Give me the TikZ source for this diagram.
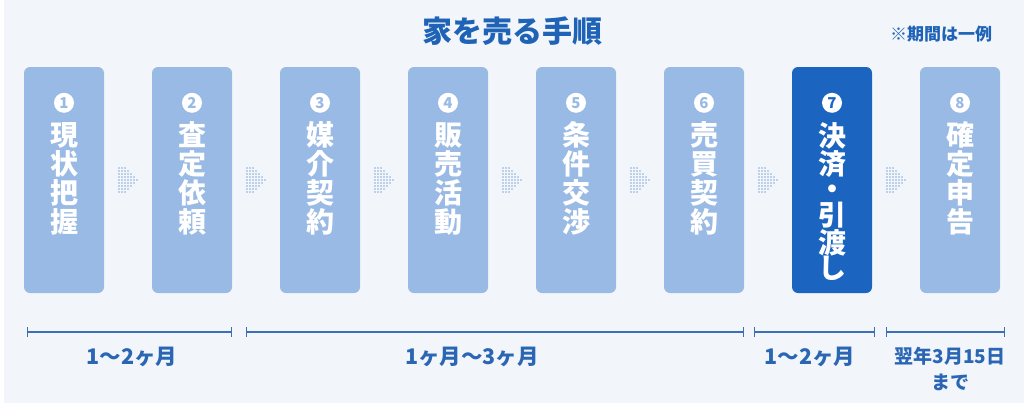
\documentclass[tikz,border=0pt]{standalone}
\usepackage{fontspec}
\newfontfamily\jp{Noto Sans CJK JP}
\usetikzlibrary{arrows.meta,calc}
\definecolor{bg}{HTML}{F2F6FB}
\definecolor{lightbox}{HTML}{99BAE4}
\definecolor{darkbox}{HTML}{1B65C1}
\definecolor{titleblue}{HTML}{1F63B7}
\definecolor{dotblue}{HTML}{8AACDC}
\definecolor{lineblue}{HTML}{3B6FB6}
\definecolor{labelblue}{HTML}{2A66B4}
\tikzset{
  stepbox/.style={draw=none, rounded corners=6pt, minimum width=80pt, minimum height=226pt, inner sep=0pt},
  numcirc/.style={circle, fill=white, minimum size=20pt, inner sep=0pt, font=\jp\bfseries\fontsize{15}{15}\selectfont},
  vtext/.style={text=white, anchor=base, text width=40pt, align=center, inner sep=0pt, font=\jp\bfseries\fontsize{28}{29}\selectfont},
  tline/.style={lineblue, line width=1.4pt, {Bar[width=10pt]}-{Bar[width=10pt]}},
  lbl/.style={text=labelblue, inner sep=0pt, font=\jp\bfseries\fontsize{21.5}{21.5}\selectfont},
  dotarrow/.pic={
    \foreach \c in {-9,-6,-3} {\foreach \r in {-4,...,4} \fill[dotblue] (\c,3*\r) circle (0.8pt);}
    \foreach \r in {-3,...,3} \fill[dotblue] (0,3*\r) circle (0.8pt);
    \foreach \r in {-2,...,2} \fill[dotblue] (3,3*\r) circle (0.8pt);
    \foreach \r in {-1,...,1} \fill[dotblue] (6,3*\r) circle (0.8pt);
    \fill[dotblue] (9,0) circle (0.8pt);
  }
}
\begin{document}
\begin{tikzpicture}[x=1pt,y=1pt]
\useasboundingbox (0,0) rectangle (1024,-407);
\fill[white] (0,0) rectangle (1024,-407);
\fill[bg] (4,0) rectangle (1024,-403);

% title and note
\node[text=titleblue, inner sep=0pt, font=\jp\bfseries\fontsize{30}{30}\selectfont] (title) at (512,-31) {家を売る手順};
\node[text=titleblue, inner sep=0pt, font=\jp\bfseries\fontsize{17}{17}\selectfont] (note) at (941,-34) {※期間は一例};

% boxes
\foreach \i in {1,...,8} {
  \ifnum\i=7
    \node[stepbox, fill=darkbox] (b\i) at ({64+128*(\i-1)},-180) {};
    \node[numcirc, text=darkbox] (n\i) at ($(b\i.north)+(0,-36)$) {\i};
  \else
    \node[stepbox, fill=lightbox] (b\i) at ({64+128*(\i-1)},-180) {};
    \node[numcirc, text=lightbox] (n\i) at ($(b\i.north)+(0,-36)$) {\i};
  \fi
}
\node[vtext] (t1) at ($(b1.north)+(0,-79)$) {現\\状\\把\\握};
\node[vtext] (t2) at ($(b2.north)+(0,-79)$) {査\\定\\依\\頼};
\node[vtext] (t3) at ($(b3.north)+(0,-79)$) {媒\\介\\契\\約};
\node[vtext] (t4) at ($(b4.north)+(0,-79)$) {販\\売\\活\\動};
\node[vtext] (t5) at ($(b5.north)+(0,-79)$) {条\\件\\交\\渉};
\node[vtext] (t6) at ($(b6.north)+(0,-79)$) {売\\買\\契\\約};
\node[vtext, font=\jp\bfseries\fontsize{28}{25.5}\selectfont] (t7) at ($(b7.north)+(0,-80)$) {決\\済\\・\\引\\渡\\し};
\node[vtext] (t8) at ($(b8.north)+(0,-79)$) {確\\定\\申\\告};

% dotted arrows
\foreach \i [evaluate=\i as \j using int(\i+1)] in {1,...,7} {
  \pic at ($(b\i.east)!0.5!(b\j.west)$) {dotarrow};
}

% timeline
\coordinate (s1a) at (27,-332);  \coordinate (s1b) at (232,-332);
\coordinate (s2a) at (246,-332); \coordinate (s2b) at (744,-332);
\coordinate (s3a) at (754,-332); \coordinate (s3b) at (875,-332);
\coordinate (s4a) at (886,-332); \coordinate (s4b) at (1005,-332);
\draw[tline] (s1a) -- (s1b);
\draw[tline] (s2a) -- (s2b);
\draw[tline] (s3a) -- (s3b);
\draw[tline] (s4a) -- (s4b);

\node[lbl] (l1) at (132,-357) {1〜2ヶ月};
\node[lbl] (l2) at (472,-357) {1ヶ月〜3ヶ月};
\node[lbl] (l3) at (810,-357) {1〜2ヶ月};
\node[lbl, align=center, font=\jp\bfseries\fontsize{19}{26}\selectfont] (l4) at (950,-369) {翌年3月15日\\まで};
\end{tikzpicture}
\end{document}
